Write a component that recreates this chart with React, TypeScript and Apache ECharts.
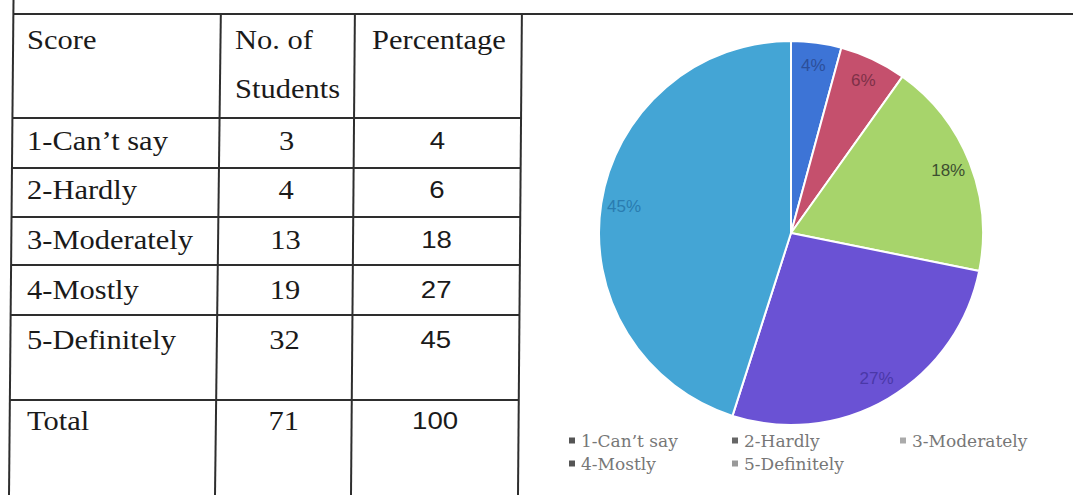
import React, { useEffect, useRef } from "react";
import * as echarts from "echarts";

const scores = ["1-Can\u2019t say", "2-Hardly", "3-Moderately", "4-Mostly", "5-Definitely"];
const students = [3, 4, 13, 19, 32];
const percentages = [4, 6, 18, 27, 45];
const headers = ["Score", "No. of", "Students", "Percentage"];
const totalLabel = "Total";
const sliceColors = ["#3d74d6", "#c5506d", "#a7d46b", "#6a52d4", "#44a5d5"];
const labelColors = ["#2c4f9a", "#7e3048", "#3d4f30", "#4a38a8", "#2a7cb0"];
const legendMarkerColors = ["#555", "#666", "#aaa", "#555", "#999"];

// table geometry (top x, bottom x) of vertical lines
const colTop = [13.5, 221, 355, 522];
const colBot = [9, 215, 351, 518];
const rowLines = [14, 118, 168, 217, 265, 315, 400];
const rowCenters = [141, 190, 240, 290, 340, 421];
// legend item slots: [left, top]
const legendSlots = [
  [567, 432],
  [730, 432],
  [898, 432],
  [567, 455],
  [730, 455],
];

function colX(i: number, y: number) {
  return colTop[i] + ((colBot[i] - colTop[i]) * y) / 495;
}

export default function App() {
  const ref = useRef<HTMLDivElement>(null);
  useEffect(() => {
    if (!ref.current) return;
    const chart = echarts.init(ref.current, null, { renderer: "svg" });
    const lineStyle = { stroke: "#2e2e2e", lineWidth: 2 };
    const serif = "Liberation Serif";
    const sans = "Liberation Sans";
    const els: any[] = [];
    els.push({ type: "line", shape: { x1: colTop[0], y1: 0, x2: colBot[0], y2: 495 }, style: lineStyle });
    for (let i = 1; i < 4; i++) {
      els.push({ type: "line", shape: { x1: colX(i, 14), y1: 14, x2: colBot[i], y2: 495 }, style: lineStyle });
    }
    rowLines.forEach((y, k) => {
      const x2 = k === 0 ? 1073 : colX(3, y);
      els.push({ type: "line", shape: { x1: colX(0, y), y1: y, x2, y2: y }, style: lineStyle });
    });
    const txt = (text: string, x: number, y: number, align: string, font: string, size: number, sx: number) => ({
      type: "text",
      x,
      y,
      scaleX: sx,
      style: {
        text,
        x: 0,
        y: 0,
        fill: "#1a1a1a",
        fontFamily: font,
        fontSize: size,
        textAlign: align,
        textVerticalAlign: "middle",
      },
    });
    els.push(txt(headers[0], 27, 40, "left", serif, 27, 1.13));
    els.push(txt(headers[1], 235, 40, "left", serif, 27, 1.13));
    els.push(txt(headers[2], 235, 89, "left", serif, 27, 1.13));
    els.push(txt(headers[3], 372, 40, "left", serif, 27, 1.13));
    const totalStudents = students.reduce((a, b) => a + b, 0);
    const totalPct = percentages.reduce((a, b) => a + b, 0);
    const rowsText = [...scores, totalLabel];
    const rowsCount = [...students, totalStudents];
    const rowsPct = [...percentages, totalPct];
    rowsText.forEach((s, i) => {
      const y = rowCenters[i];
      els.push(txt(s, 27, y, "left", serif, 27, 1.13));
      els.push(txt(String(rowsCount[i]), (colX(1, y) + colX(2, y)) / 2, y, "center", serif, 27, 1.13));
      els.push(txt(String(rowsPct[i]), (colX(2, y) + colX(3, y)) / 2, y, "center", sans, 24, 1.15));
    });

    const pieData = scores.map((name, i) => ({ name, value: students[i], itemStyle: { color: sliceColors[i] } }));
    const labelData = scores.map((name, i) => ({
      name,
      value: students[i],
      label: { color: labelColors[i] },
    }));

    const legends = scores.map((name, i) => ({
      left: legendSlots[i][0],
      top: legendSlots[i][1],
      icon: "rect",
      itemWidth: 8,
      itemHeight: 8,
      padding: 0,
      data: [{ name, itemStyle: { color: legendMarkerColors[i] } }],
      textStyle: { color: "#777", fontFamily: "DejaVu Serif", fontSize: 17 },
    }));

    chart.setOption({
      animation: false,
      backgroundColor: "#ffffff",
      graphic: { elements: els },
      legend: legends,
      series: [
        {
          type: "pie",
          center: [791, 233],
          radius: [0, 192],
          startAngle: 90,
          label: { show: false },
          labelLine: { show: false },
          itemStyle: { borderColor: "#ffffff", borderWidth: 2 },
          data: pieData,
          silent: true,
        },
        {
          type: "pie",
          center: [791, 233],
          radius: [140, 192],
          startAngle: 90,
          silent: true,
          itemStyle: { color: "transparent", borderWidth: 0 },
          label: {
            show: true,
            position: "inside",
            fontFamily: "Liberation Sans",
            fontSize: 17,
            formatter: (p: any) => `${Math.round(p.percent)}%`,
          },
          labelLine: { show: false },
          data: labelData,
        },
      ],
    });
    return () => chart.dispose();
  }, []);
  return (
    <div
      ref={ref}
      style={{ position: "absolute", left: 0, top: 0, width: 1073, height: 495, background: "#fff" }}
    />
  );
}
